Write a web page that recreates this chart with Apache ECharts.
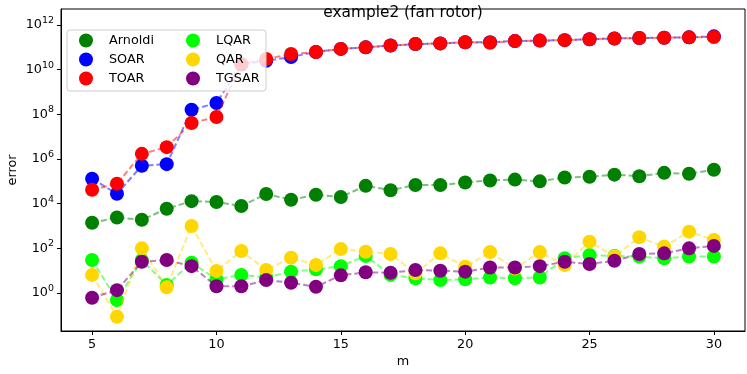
<!DOCTYPE html>
<html lang="en">
<head>
    <meta charset="UTF-8">
    <title>example2 (fan rotor)</title>
    <script type="text/javascript" src="https://cdn.jsdelivr.net/npm/echarts@6/dist/echarts.min.js"></script>
    <style>
        html, body { margin: 0; padding: 0; background: #fff; }
        #main { width: 747px; height: 374px; }
    </style>
</head>
<body>
<div id="main"></div>
<script>
    // m values (x axis)
    var m = [5, 6, 7, 8, 9, 10, 11, 12, 13, 14, 15, 16, 17, 18, 19, 20, 21, 22, 23, 24, 25, 26, 27, 28, 29, 30];

    // error values
    var arnoldi = [1.4e3, 2.4e3, 1.9e3, 5.9e3, 1.3e4, 1.2e4, 7.9e3, 2.7e4, 1.5e4, 2.5e4, 2.0e4, 6.3e4, 4.0e4,
                   6.9e4, 6.8e4, 8.9e4, 1.1e5, 1.2e5, 1.0e5, 1.5e5, 1.6e5, 2.0e5, 1.7e5, 2.4e5, 2.2e5, 3.3e5];
    var soar = [1.3e5, 2.8e4, 5.0e5, 5.9e5, 1.6e8, 3.2e8, 1.7e10, 2.5e10, 3.7e10, 6.2e10, 8.5e10, 1.0e11, 1.2e11,
                1.4e11, 1.5e11, 1.7e11, 1.7e11, 1.9e11, 2.0e11, 2.1e11, 2.3e11, 2.5e11, 2.6e11, 2.7e11, 2.8e11, 3.1e11];
    var toar = [4.2e4, 7.8e4, 1.7e6, 3.4e6, 4.1e7, 7.6e7, 1.8e10, 3.0e10, 5.0e10, 6.2e10, 8.5e10, 1.0e11, 1.2e11,
                1.4e11, 1.5e11, 1.7e11, 1.6e11, 1.9e11, 2.0e11, 2.1e11, 2.3e11, 2.5e11, 2.6e11, 2.7e11, 2.8e11, 2.9e11];
    var lqar = [30, 0.49, 30, 2.3, 23, 4.1, 6.5, 5.0, 9.1, 11.5, 16, 46, 6.5,
                4.6, 3.8, 4.1, 5.0, 4.6, 5.0, 36, 50, 46, 43, 36, 43, 43];
    var qar = [6.5, 0.087, 100, 1.8, 1000, 9.8, 76, 10.7, 38, 18, 93, 71, 56,
               7.6, 60, 15, 68, 12.6, 68, 18, 200, 43, 316, 120, 562, 240];
    var tgsar = [0.62, 1.35, 25, 30, 16, 2.0, 2.0, 3.8, 2.9, 1.9, 6.2, 8.5, 8.1,
                 10.7, 10, 9.1, 14, 14, 16, 25, 20, 28, 56, 60, 100, 129];

    var names = ['Arnoldi', 'SOAR', 'TOAR', 'LQAR', 'QAR', 'TGSAR'];
    var colors = ['#008000', '#0000ff', '#ff0000', '#00ff00', '#ffd700', '#800080'];
    var values = [arnoldi, soar, toar, lqar, qar, tgsar];

    var xTicks = [5, 10, 15, 20, 25, 30];
    var yTicks = [1, 1e2, 1e4, 1e6, 1e8, 1e10, 1e12];

    var font = 'DejaVu Sans';

    var series = [];
    for (var i = 0; i < names.length; i++) {
        series.push({
            name: names[i],
            type: 'line',
            data: m.map(function (x, j) { return [x, values[i][j]]; }),
            symbol: 'circle',
            symbolSize: 14,
            showAllSymbol: true,
            itemStyle: { color: colors[i], opacity: 1 },
            lineStyle: { color: colors[i], width: 2, opacity: 0.5, type: [6, 3] },
            z: 2 + i,
            animation: false
        });
    }

    var legendBase = {
        orient: 'vertical',
        top: 33.5,
        padding: 0,
        itemGap: 5,
        itemWidth: 14, itemHeight: 14,
        icon: 'circle',
        textStyle: { fontFamily: font, fontSize: 12.8, color: '#000', padding: [0, 0, 0, 11] },
        z: 60
    };

    var myChart = echarts.init(document.getElementById('main'));
    var option = {
        animation: false,
        title: {
            text: 'example2 (fan rotor)',
            left: 398, top: 0, textAlign: 'center',
            textStyle: { fontFamily: font, fontSize: 15.4, fontWeight: 'normal', color: '#000' }
        },
        grid: {
            left: 61, right: 2, top: 9, bottom: 43,
            outerBoundsMode: 'none',
            containLabel: false,
            show: true, borderColor: '#000', borderWidth: 1
        },
        xAxis: {
            type: 'value',
            min: 3.75, max: 31.25,
            name: 'm', nameLocation: 'middle', nameGap: 24,
            nameMoveOverlap: false,
            nameTextStyle: { fontFamily: font, fontSize: 12.8, color: '#000' },
            axisLine: { show: true, lineStyle: { color: '#000' } },
            axisTick: { show: true, length: 4, customValues: xTicks, lineStyle: { color: '#000' } },
            axisLabel: { customValues: xTicks, fontFamily: font, fontSize: 12.8, color: '#000', margin: 7 },
            splitLine: { show: false }
        },
        yAxis: {
            type: 'log',
            logBase: 10,
            min: 0.02, max: 5.2e12,
            name: 'error', nameLocation: 'middle', nameGap: 42,
            nameMoveOverlap: false,
            nameTextStyle: { fontFamily: font, fontSize: 12.8, color: '#000' },
            axisLine: { show: true, lineStyle: { color: '#000' } },
            axisTick: { show: true, length: 4, customValues: yTicks, lineStyle: { color: '#000' } },
            axisLabel: {
                customValues: yTicks,
                margin: 7,
                formatter: function (v) {
                    var e = Math.round(Math.log10(v));
                    return '{b|10}{s|' + e + '}';
                },
                rich: {
                    b: { fontFamily: font, fontSize: 12.8, color: '#000' },
                    s: { fontFamily: font, fontSize: 9.5, color: '#000', padding: [0, 0, 9, 0] }
                }
            },
            splitLine: { show: false }
        },
        graphic: [{
            type: 'rect',
            shape: { x: 67, y: 30, width: 199, height: 61, r: 3 },
            style: { fill: 'rgba(255,255,255,0.8)', stroke: '#cccccc', lineWidth: 1 },
            z: 50
        }],
        legend: [
            Object.assign({}, legendBase, { data: names.slice(0, 3), left: 79 }),
            Object.assign({}, legendBase, { data: names.slice(3), left: 186 })
        ],
        series: series
    };
    myChart.setOption(option);
</script>
</body>
</html>
